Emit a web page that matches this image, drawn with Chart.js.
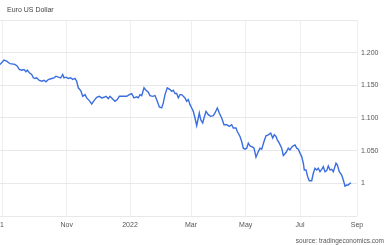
<!DOCTYPE html>
<html>
<head>
<meta charset="utf-8">
<script src="https://cdn.jsdelivr.net/npm/chart.js@4"></script>
<style>
  body { margin: 0; background: #fff; }
  #wrap { position: relative; width: 390px; height: 245px; font-family: "Liberation Sans", Arial, sans-serif; }
  #titulo { position: absolute; left: 7px; top: 6px; font-size: 7px; color: #444; }
  #fuente { position: absolute; right: 6px; top: 237px; font-size: 6.5px; color: #555; }
</style>
</head>
<body>
<div id="wrap">
  <canvas id="grafico" width="390" height="245"></canvas>
  <div id="titulo">Euro US Dollar</div>
  <div id="fuente">source: tradingeconomics.com</div>
</div>
<script>
// Índice de sesión (eje x) y cotización EUR/USD
const sesiones = [
  0, 4, 6.7, 10, 15, 17.3, 19.3, 21.7, 24, 26, 27.3, 29.3, 31.7, 33.3, 35, 36.7, 39.3, 41.7, 44, 46,
  48.3, 51.7, 54, 56, 58.3, 60.7, 62.7, 64, 66, 68.3, 70.7, 72.7, 75, 76.7, 78.3, 80.7, 82.7, 85, 86.7, 89.3,
  91.7, 94, 96.7, 99.3, 101.7, 104, 106, 108.3, 110, 112.7, 115, 117.3, 119.3, 122.7, 126.7, 129.3, 131.7, 134, 136.7, 138.3,
  140, 141.7, 144, 146, 148.3, 150, 152.7, 155, 157.3, 159.3, 161.7, 163.3, 165, 167.3, 170, 171.7, 173.3, 175, 176.7, 178.3,
  180, 181.7, 183.3, 185, 186.7, 188.3, 190, 191.7, 193.3, 195, 196.7, 198.3, 199.3, 200.7, 202.7, 204, 206, 208.3, 210.7, 213.3,
  215, 217.3, 219.3, 221.7, 224, 226.7, 229.3, 231.7, 233.3, 236, 237.3, 240, 241.7, 243.3, 245, 246.7, 248.3, 250, 252.7, 254,
  256, 258.3, 260, 261.7, 264, 266, 268.3, 270.7, 272.7, 274.3, 276, 277.3, 279.3, 281.7, 283.3, 286, 288.3, 290, 291.7, 293.3,
  295, 296.7, 298.3, 300, 301.7, 303.3, 304.3, 306, 307.7, 309.3, 311.7, 313.3, 315, 316.7, 318.3, 320, 321.7, 323.3, 325, 326.7,
  328.3, 330, 331.7, 333.3, 336, 337.3, 339.3, 341.7, 343.3, 345, 346.7, 348.3, 350, 351
];
const eurusd = [
  1.1820, 1.1886, 1.1871, 1.1831, 1.1820, 1.1794, 1.1743, 1.1732, 1.1743, 1.1708, 1.1732, 1.1692, 1.1666, 1.1615, 1.1605, 1.1615, 1.1574, 1.1563, 1.1578, 1.1554,
  1.1589, 1.1605, 1.1615, 1.1640, 1.1625, 1.1615, 1.1666, 1.1615, 1.1625, 1.1605, 1.1615, 1.1589, 1.1605, 1.1563, 1.1462, 1.1420, 1.1332, 1.1358, 1.1308, 1.1266,
  1.1215, 1.1266, 1.1317, 1.1332, 1.1308, 1.1317, 1.1332, 1.1297, 1.1332, 1.1292, 1.1255, 1.1282, 1.1332, 1.1332, 1.1332, 1.1358, 1.1374, 1.1308, 1.1323, 1.1308,
  1.1358, 1.1343, 1.1462, 1.1425, 1.1394, 1.1343, 1.1332, 1.1343, 1.1255, 1.1169, 1.1154, 1.1231, 1.1358, 1.1462, 1.1435, 1.1409, 1.1425, 1.1374, 1.1374, 1.1308,
  1.1358, 1.1358, 1.1332, 1.1308, 1.1255, 1.1282, 1.1205, 1.1154, 1.1102, 1.1000, 1.0882, 1.1000, 1.1077, 1.0974, 1.0923, 1.1000, 1.1102, 1.1051, 1.1025, 1.1035,
  1.1077, 1.1154, 1.1077, 1.1000, 1.0897, 1.0897, 1.0871, 1.0897, 1.0846, 1.0846, 1.0794, 1.0717, 1.0640, 1.0538, 1.0523, 1.0538, 1.0615, 1.0574, 1.0554, 1.0538,
  1.0400, 1.0486, 1.0538, 1.0523, 1.0640, 1.0728, 1.0743, 1.0769, 1.0692, 1.0743, 1.0717, 1.0666, 1.0615, 1.0538, 1.0425, 1.0471, 1.0538, 1.0512, 1.0554, 1.0574,
  1.0589, 1.0538, 1.0523, 1.0462, 1.0409, 1.0308, 1.0205, 1.0205, 1.0102, 1.0040, 1.0040, 1.0154, 1.0231, 1.0205, 1.0231, 1.0178, 1.0215, 1.0255, 1.0178, 1.0194,
  1.0266, 1.0205, 1.0215, 1.0178, 1.0308, 1.0282, 1.0178, 1.0128, 1.0051, 0.9958, 0.9974, 0.9974, 1.0000, 1.0009
];

// Posición de las etiquetas del eje x (en sesiones) y su texto
const posEtiquetas = [2, 66.7, 130, 191, 245.7, 300, 357];
const etiquetasX = ['1', 'Nov', '2022', 'Mar', 'May', 'Jul', 'Sep'];

const fuenteEjes = { family: "'Liberation Sans', Arial, sans-serif", size: 7 };

const puntos = sesiones.map((s, i) => ({ x: s, y: eurusd[i] }));

const ctx = document.getElementById('grafico').getContext('2d');
new Chart(ctx, {
    type: 'line',
    data: {
        datasets: [{
            data: puntos,
            borderColor: '#3a6ee0',
            borderWidth: 1.4,
            pointRadius: 0,
            tension: 0,
            fill: false
        }]
    },
    options: {
        responsive: false,
        animation: false,
        devicePixelRatio: 1,
        layout: { padding: { top: 20, left: 0, right: 0, bottom: 0 } },
        plugins: {
            legend: { display: false },
            tooltip: { enabled: false }
        },
        scales: {
            x: {
                type: 'linear',
                min: 0,
                max: 357,
                afterBuildTicks: scale => {
                    scale.ticks = posEtiquetas.map(v => ({ value: v }));
                },
                afterFit: scale => {
                    scale.height = 29;
                    // sin margen extra para la primera/última etiqueta
                    scale.paddingLeft = 0;
                    scale.paddingRight = 0;
                },
                ticks: {
                    autoSkip: false,
                    maxRotation: 0,
                    padding: 5,
                    color: '#555',
                    font: fuenteEjes,
                    callback: (valor, i) => etiquetasX[i]
                },
                grid: { color: '#efefef', drawTicks: false },
                border: { display: false }
            },
            y: {
                position: 'right',
                min: 0.95,
                max: 1.25,
                afterFit: scale => {
                    scale.width = 33;
                    scale.paddingTop = 0;
                    scale.paddingBottom = 0;
                },
                ticks: {
                    stepSize: 0.05,
                    padding: 4,
                    color: '#555',
                    font: fuenteEjes,
                    callback: valor => {
                        const v = Math.round(valor * 1000) / 1000;
                        if (v <= 0.95 || v >= 1.25) return '';
                        return v === 1 ? '1' : v.toFixed(3);
                    }
                },
                grid: { color: '#e8e8e8', drawTicks: false },
                border: { display: false }
            }
        }
    }
});
</script>
</body>
</html>
